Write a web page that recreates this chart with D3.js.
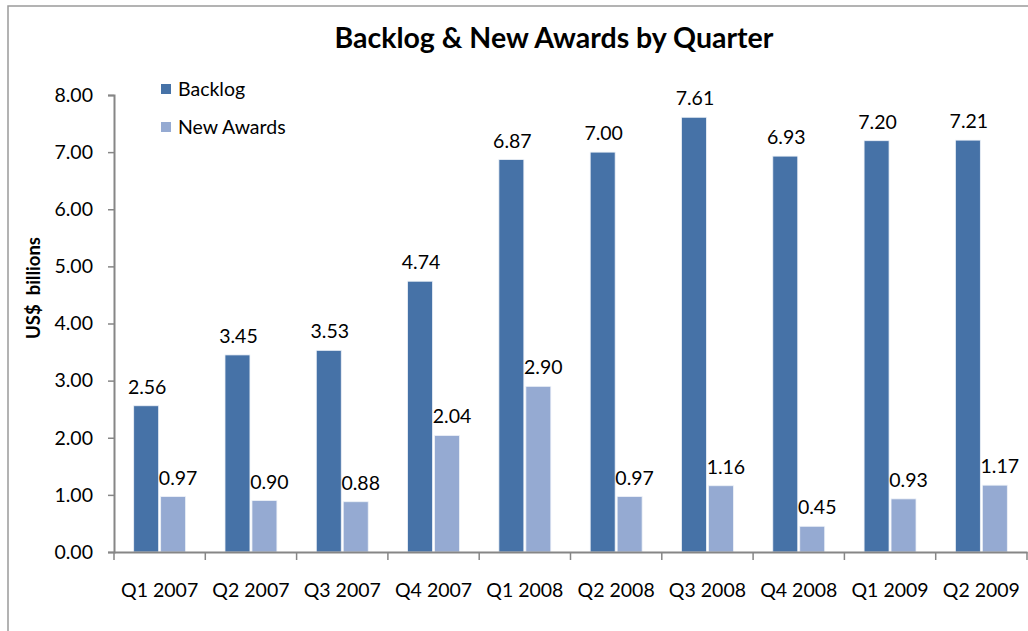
<!DOCTYPE html>
<html>
<head>
<meta charset="utf-8">
<script src="https://cdn.jsdelivr.net/npm/d3@7/dist/d3.min.js"></script>
<style>
  html, body { margin: 0; padding: 0; background: #fff; }
  svg { display: block; font-family: Lato, "Open Sans", sans-serif; }
</style>
</head>
<body>
<svg id="chart" width="1028" height="631"></svg>
<script>
// data
const quarters = ['Q1 2007', 'Q2 2007', 'Q3 2007', 'Q4 2007', 'Q1 2008',
  'Q2 2008', 'Q3 2008', 'Q4 2008', 'Q1 2009', 'Q2 2009'];
const backlog = [2.56, 3.45, 3.53, 4.74, 6.87, 7.00, 7.61, 6.93, 7.20, 7.21];
const newAwards = [0.97, 0.90, 0.88, 2.04, 2.90, 0.97, 1.16, 0.45, 0.93, 1.17];
const seriesNames = ['Backlog', 'New Awards'];
const yTicks = [0, 1, 2, 3, 4, 5, 6, 7, 8];

const colors = { 'Backlog': '#4672a7', 'New Awards': '#95aad2' };
const labelShift = { 'Backlog': 1, 'New Awards': 5 };
const fontSize = '19.5px';

const svg = d3.select('#chart');

const plot = { left: 114, right: 1027, top: 95, bottom: 552 };

// chart frame
svg.append('rect')
  .attr('x', 8).attr('y', 6)
  .attr('width', 1040).attr('height', 640)
  .attr('fill', 'none')
  .attr('stroke', '#9a9a9a')
  .attr('stroke-width', 1.5);

svg.append('text')
  .attr('x', 554).attr('y', 48)
  .attr('text-anchor', 'middle')
  .style('font-size', '28.5px')
  .style('font-weight', 'bold')
  .text('Backlog & New Awards by Quarter');

const x = d3.scaleBand()
  .domain(quarters)
  .range([plot.left, plot.right])
  .padding(0);

const x1 = d3.scaleBand()
  .domain(seriesNames)
  .range([0, x.bandwidth()])
  .paddingInner(0.074)
  .paddingOuter(0.73);

const y = d3.scaleLinear()
  .domain([0, 8])
  .range([plot.bottom, plot.top]);

// y axis
const yAxis = svg.append('g')
  .attr('transform', 'translate(' + plot.left + ',0)')
  .call(d3.axisLeft(y).tickValues(yTicks).tickSize(6).tickPadding(15)
    .tickFormat(d3.format('.2f')));
yAxis.select('.domain').attr('stroke', '#868686').attr('stroke-width', 2);
yAxis.selectAll('.tick line').attr('stroke', '#868686').attr('stroke-width', 1.5);
yAxis.selectAll('.tick text')
  .style('font-size', fontSize)
  .style('font-family', 'Lato, sans-serif')
  .attr('fill', '#000');

svg.append('text')
  .attr('transform', 'translate(40,288) rotate(-90)')
  .attr('text-anchor', 'middle')
  .style('font-size', '18.5px')
  .style('font-weight', 'bold')
  .style('white-space', 'pre')
  .text('US$  billions');

const rows = quarters.map((q, i) => ({
  quarter: q,
  values: [
    { name: 'Backlog', value: backlog[i] },
    { name: 'New Awards', value: newAwards[i] }
  ]
}));

const groups = svg.append('g')
  .selectAll('g')
  .data(rows)
  .enter()
  .append('g')
  .attr('transform', d => 'translate(' + x(d.quarter) + ',0)');

groups.selectAll('rect')
  .data(d => d.values)
  .enter()
  .append('rect')
  .attr('x', d => x1(d.name))
  .attr('y', d => y(d.value))
  .attr('width', x1.bandwidth())
  .attr('height', d => plot.bottom - y(d.value))
  .attr('fill', d => colors[d.name])
  .attr('stroke', '#eef2f8')
  .attr('stroke-width', 0.8);

groups.selectAll('text.val')
  .data(d => d.values)
  .enter()
  .append('text')
  .attr('class', 'val')
  .attr('x', d => x1(d.name) + x1.bandwidth() / 2 + labelShift[d.name])
  .attr('y', d => y(d.value) - 12)
  .attr('text-anchor', 'middle')
  .style('font-size', fontSize)
  .text(d => d3.format('.2f')(d.value));

// x axis
const xAxis = svg.append('g')
  .attr('transform', 'translate(0,' + plot.bottom + ')')
  .call(d3.axisBottom(x).tickSize(0).tickPadding(0));
xAxis.select('.domain').attr('stroke', '#868686').attr('stroke-width', 2);
xAxis.selectAll('.tick text')
  .attr('y', 45)
  .attr('dy', 0)
  .style('font-size', fontSize)
  .style('font-family', 'Lato, sans-serif')
  .attr('fill', '#000');

// category separators on the x axis
svg.append('g')
  .selectAll('line')
  .data(quarters.concat(['end']))
  .enter()
  .append('line')
  .attr('x1', (d, i) => i < quarters.length ? x(d) : plot.right)
  .attr('x2', (d, i) => i < quarters.length ? x(d) : plot.right)
  .attr('y1', plot.bottom)
  .attr('y2', plot.bottom + 8)
  .attr('stroke', '#868686')
  .attr('stroke-width', 1.5);

// legend
const legend = svg.append('g')
  .selectAll('g')
  .data(seriesNames)
  .enter()
  .append('g')
  .attr('transform', (d, i) => 'translate(161,' + (84 + i * 38) + ')');

legend.append('rect')
  .attr('width', 10).attr('height', 10)
  .attr('fill', d => colors[d]);

legend.append('text')
  .attr('x', 17).attr('y', 12)
  .style('font-size', fontSize)
  .text(d => d);
</script>
</body>
</html>
